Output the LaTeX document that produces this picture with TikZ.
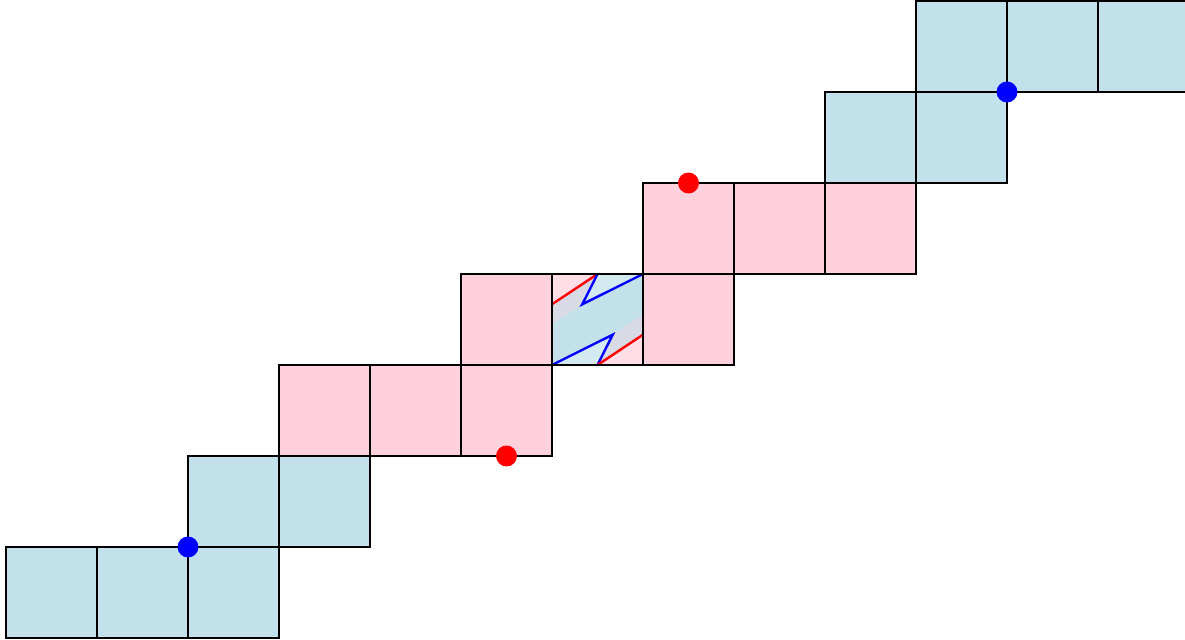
\documentclass[tikz,border=0pt]{standalone}
\definecolor{cellblue}{RGB}{194,225,235}
\definecolor{cellpink}{RGB}{255,209,220}
\definecolor{midpink}{RGB}{255,222,229}
\definecolor{midgray}{RGB}{216,219,230}
\definecolor{midlight}{RGB}{212,234,241}
\begin{document}
\begin{tikzpicture}[x=1cm,y=1cm,
  edge/.style={draw=black,line width=0.85pt},
  bluefill/.style={fill=cellblue},
  pinkfill/.style={fill=cellpink},
  redline/.style={draw=red,line width=0.75pt},
  blueline/.style={draw=blue,line width=0.75pt},
  dot/.style={circle,inner sep=0pt,minimum size=0.23cm}]
\useasboundingbox (-0.066,-0.022) rectangle (12.956,7.011);
\clip (-0.066,-0.022) rectangle (12.956,7.011);
% fills
\foreach \x/\y in {0/0,1/0,2/0,2/1,3/1,9/5,10/5,10/6,11/6,12/6}
  \fill[bluefill] (\x,\y) rectangle ++(1,1);
\foreach \x/\y in {3/2,4/2,5/2,5/3,7/3,7/4,8/4,9/4}
  \fill[pinkfill] (\x,\y) rectangle ++(1,1);
% middle cell
\fill[cellblue] (6,3) rectangle (7,4);
\fill[midpink] (6,3.667) -- (6,4) -- (6.5,4) -- cycle;
\fill[midgray] (6,3.444) -- (6,3.667) -- (6.5,4) -- (6.333,3.667) -- cycle;
\fill[midlight] (6.333,3.667) -- (6.5,4) -- (7,4) -- cycle;
\fill[midpink] (7,3.333) -- (7,3) -- (6.5,3) -- cycle;
\fill[midgray] (7,3.556) -- (7,3.333) -- (6.5,3) -- (6.667,3.333) -- cycle;
\fill[midlight] (6.667,3.333) -- (6.5,3) -- (6,3) -- cycle;
\draw[redline] (6,3.667) -- (6.5,4);
\draw[blueline] (6.5,4) -- (6.333,3.667) -- (7,4);
\draw[blueline] (6,3) -- (6.667,3.333) -- (6.5,3);
\draw[redline] (6.5,3) -- (7,3.333);
% borders
\foreach \x/\y in {0/0,1/0,2/0,2/1,3/1,9/5,10/5,10/6,11/6,12/6,3/2,4/2,5/2,5/3,6/3,7/3,7/4,8/4,9/4}
  \draw[edge] (\x,\y) rectangle ++(1,1);
% dots
\node[dot,fill=blue] (b1) at (2,1) {};
\node[dot,fill=red] (r1) at (5.5,2) {};
\node[dot,fill=red] (r2) at (7.5,5) {};
\node[dot,fill=blue] (b2) at (11,6) {};
\end{tikzpicture}
\end{document}
